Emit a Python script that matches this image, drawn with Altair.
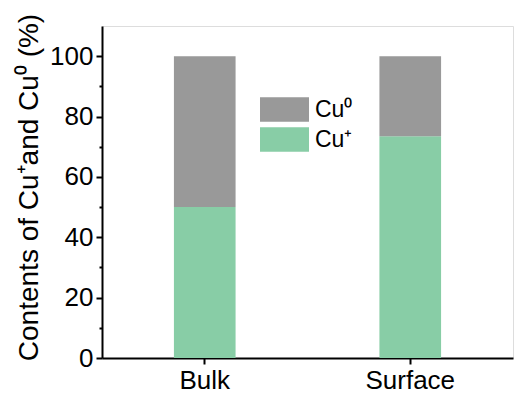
import altair as alt
import pandas as pd

categories = ["Bulk", "Surface"]
cu_plus = [50.0, 73.5]
cu_zero = [50.0, 26.5]
species = ["Cu\u2070", "Cu\u207a"]
colors = ["#999999", "#88CDA6"]

rows = []
for c, p, z in zip(categories, cu_plus, cu_zero):
    rows.append({"sample": c, "species": species[1], "value": p, "ord": 0})
    rows.append({"sample": c, "species": species[0], "value": z, "ord": 1})
df = pd.DataFrame(rows)

FONT = "Liberation Sans"

chart = alt.Chart(df).mark_bar().encode(
    x=alt.X("sample:N", sort=categories,
            scale=alt.Scale(paddingInner=0.7, paddingOuter=0.35),
            axis=alt.Axis(title=None, labelAngle=0, labelFontSize=26, labelPadding=3,
                          tickSize=6, tickWidth=2, tickColor="black",
                          domainColor="black", domainWidth=2)),
    y=alt.Y("value:Q", stack="zero",
            scale=alt.Scale(domain=[0, 110], nice=False),
            axis=alt.Axis(title="Contents of Cu\u207aand Cu\u2070 (%)",
                          values=list(range(0, 101, 10)),
                          labelExpr="datum.value % 20 === 0 ? datum.label : ''",
                          tickSize={"condition": {"test": "datum.value % 20 === 0", "value": 6}, "value": 3},
                          tickWidth=2, tickColor="black",
                          labelFontSize=26, labelPadding=3,
                          domainColor="black", domainWidth=2, grid=False,
                          titleFontSize=28, titleFontWeight="normal",
                          titleX=-65, titleY=161, titleAngle=270,
                          titleBaseline="alphabetic", titleAlign="center")),
    color=alt.Color("species:N", scale=alt.Scale(domain=species, range=colors),
                    legend=alt.Legend(title=None, orient="none", legendX=170, legendY=71,
                                      symbolType="M-2,-1H2V1H-2Z", symbolSize=600,
                                      symbolStrokeWidth=0, symbolOpacity=1,
                                      labelFontSize=23, labelOffset=18, rowPadding=5,
                                      padding=0)),
    order=alt.Order("ord:Q"),
).properties(
    width=411, height=332,
    autosize="none",
    padding={"left": 102, "top": 26, "right": 1, "bottom": 38},
).configure_view(
    stroke="black", strokeWidth=2
).configure(
    font=FONT
).configure_axis(
    labelColor="black", titleColor="black", labelFont=FONT, titleFont=FONT
).configure_legend(
    labelColor="black", labelFont=FONT
)

chart.save("out.html", embed_options={"renderer": "svg", "actions": False})
